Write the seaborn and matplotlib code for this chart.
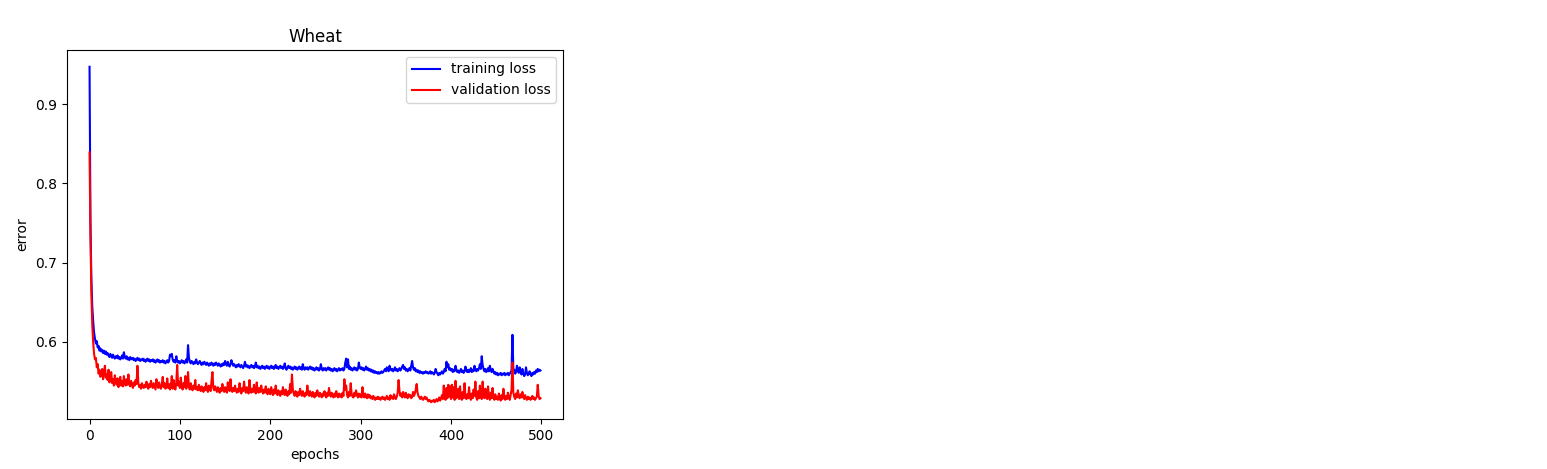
import numpy as np
import pandas as pd
import matplotlib
matplotlib.use("Agg")
import matplotlib.pyplot as plt
import seaborn as sns

title = "Wheat"
x_label = "epochs"
y_label = "error"
series_names = ["training loss", "validation loss"]

training_loss = [
    0.947, 0.752, 0.681, 0.645, 0.626, 0.612, 0.604, 0.598, 0.601, 0.593, 0.595, 0.589, 0.592, 0.588, 0.590, 0.586, 0.589, 0.585, 0.588, 0.584,
    0.586, 0.583, 0.581, 0.585, 0.582, 0.580, 0.584, 0.581, 0.579, 0.582, 0.580, 0.583, 0.579, 0.581, 0.578, 0.580, 0.583, 0.579, 0.587, 0.581,
    0.579, 0.582, 0.578, 0.580, 0.577, 0.581, 0.579, 0.578, 0.580, 0.577, 0.579, 0.576, 0.578, 0.580, 0.577, 0.579, 0.576, 0.578, 0.577, 0.579,
    0.576, 0.578, 0.575, 0.577, 0.579, 0.576, 0.578, 0.575, 0.577, 0.576, 0.578, 0.575, 0.577, 0.574, 0.576, 0.578, 0.575, 0.577, 0.574, 0.576,
    0.575, 0.577, 0.574, 0.576, 0.573, 0.575, 0.577, 0.574, 0.576, 0.584, 0.582, 0.585, 0.578, 0.575, 0.577, 0.574, 0.582, 0.576, 0.574, 0.576,
    0.573, 0.575, 0.577, 0.574, 0.576, 0.573, 0.575, 0.578, 0.574, 0.596, 0.580, 0.575, 0.573, 0.576, 0.574, 0.572, 0.575, 0.573, 0.578, 0.574,
    0.572, 0.574, 0.576, 0.573, 0.571, 0.574, 0.572, 0.575, 0.573, 0.571, 0.574, 0.572, 0.570, 0.573, 0.571, 0.574, 0.572, 0.570, 0.573, 0.571,
    0.574, 0.572, 0.570, 0.573, 0.571, 0.569, 0.572, 0.570, 0.573, 0.571, 0.576, 0.572, 0.570, 0.575, 0.571, 0.569, 0.572, 0.577, 0.573, 0.570,
    0.572, 0.570, 0.568, 0.571, 0.569, 0.572, 0.570, 0.568, 0.571, 0.569, 0.567, 0.570, 0.575, 0.569, 0.571, 0.568, 0.570, 0.567, 0.569, 0.571,
    0.568, 0.570, 0.567, 0.569, 0.574, 0.568, 0.570, 0.567, 0.569, 0.566, 0.568, 0.570, 0.567, 0.569, 0.566, 0.568, 0.570, 0.567, 0.569, 0.566,
    0.568, 0.570, 0.567, 0.569, 0.566, 0.568, 0.571, 0.567, 0.569, 0.566, 0.568, 0.570, 0.567, 0.569, 0.566, 0.568, 0.573, 0.567, 0.565, 0.568,
    0.570, 0.567, 0.569, 0.566, 0.568, 0.565, 0.567, 0.569, 0.566, 0.568, 0.565, 0.567, 0.569, 0.566, 0.568, 0.565, 0.572, 0.567, 0.565, 0.568,
    0.566, 0.568, 0.565, 0.567, 0.569, 0.566, 0.568, 0.565, 0.567, 0.564, 0.566, 0.568, 0.565, 0.567, 0.564, 0.566, 0.572, 0.566, 0.564, 0.567,
    0.565, 0.567, 0.564, 0.566, 0.568, 0.565, 0.567, 0.564, 0.566, 0.563, 0.565, 0.567, 0.564, 0.566, 0.563, 0.565, 0.567, 0.564, 0.566, 0.565,
    0.567, 0.564, 0.566, 0.574, 0.579, 0.568, 0.578, 0.566, 0.569, 0.565, 0.567, 0.564, 0.566, 0.568, 0.565, 0.567, 0.564, 0.566, 0.574, 0.568,
    0.566, 0.568, 0.565, 0.567, 0.564, 0.566, 0.569, 0.565, 0.567, 0.564, 0.566, 0.563, 0.565, 0.562, 0.564, 0.561, 0.563, 0.561, 0.562, 0.560,
    0.562, 0.560, 0.561, 0.563, 0.561, 0.562, 0.564, 0.566, 0.563, 0.568, 0.565, 0.563, 0.570, 0.566, 0.564, 0.566, 0.563, 0.565, 0.568, 0.564,
    0.566, 0.563, 0.565, 0.567, 0.564, 0.566, 0.569, 0.571, 0.566, 0.568, 0.564, 0.566, 0.563, 0.565, 0.567, 0.564, 0.570, 0.576, 0.568, 0.565,
    0.567, 0.563, 0.565, 0.562, 0.564, 0.561, 0.563, 0.561, 0.562, 0.560, 0.562, 0.561, 0.563, 0.561, 0.562, 0.560, 0.561, 0.563, 0.560, 0.562,
    0.561, 0.559, 0.561, 0.566, 0.562, 0.560, 0.558, 0.561, 0.559, 0.561, 0.563, 0.560, 0.562, 0.566, 0.563, 0.575, 0.568, 0.572, 0.565, 0.567,
    0.564, 0.566, 0.562, 0.565, 0.563, 0.570, 0.565, 0.562, 0.564, 0.561, 0.563, 0.566, 0.562, 0.564, 0.561, 0.563, 0.569, 0.564, 0.562, 0.565,
    0.562, 0.564, 0.567, 0.562, 0.565, 0.563, 0.570, 0.565, 0.563, 0.566, 0.564, 0.567, 0.572, 0.566, 0.582, 0.571, 0.566, 0.563, 0.566, 0.562,
    0.564, 0.567, 0.563, 0.570, 0.565, 0.562, 0.566, 0.563, 0.560, 0.562, 0.559, 0.561, 0.558, 0.560, 0.559, 0.561, 0.558, 0.560, 0.559, 0.561,
    0.558, 0.560, 0.559, 0.561, 0.558, 0.560, 0.562, 0.564, 0.609, 0.566, 0.565, 0.560, 0.562, 0.570, 0.564, 0.561, 0.568, 0.562, 0.559, 0.566,
    0.560, 0.557, 0.559, 0.568, 0.561, 0.558, 0.560, 0.563, 0.559, 0.557, 0.561, 0.559, 0.562, 0.560, 0.564, 0.562, 0.566, 0.563, 0.565, 0.564,
]

validation_loss = [
    0.839, 0.735, 0.662, 0.622, 0.600, 0.585, 0.578, 0.580, 0.568, 0.572, 0.560, 0.565, 0.556, 0.558, 0.566, 0.553, 0.561, 0.570, 0.555, 0.559,
    0.552, 0.565, 0.549, 0.556, 0.562, 0.548, 0.553, 0.545, 0.558, 0.550, 0.546, 0.554, 0.543, 0.550, 0.556, 0.545, 0.551, 0.544, 0.557, 0.548,
    0.545, 0.553, 0.546, 0.559, 0.547, 0.544, 0.551, 0.546, 0.542, 0.549, 0.545, 0.552, 0.547, 0.570, 0.548, 0.543, 0.546, 0.541, 0.548, 0.544,
    0.542, 0.546, 0.543, 0.550, 0.544, 0.541, 0.547, 0.543, 0.551, 0.545, 0.542, 0.548, 0.544, 0.540, 0.553, 0.545, 0.542, 0.549, 0.543, 0.541,
    0.547, 0.556, 0.543, 0.548, 0.541, 0.544, 0.554, 0.542, 0.547, 0.540, 0.545, 0.557, 0.541, 0.552, 0.543, 0.540, 0.549, 0.571, 0.545, 0.550,
    0.542, 0.555, 0.544, 0.540, 0.548, 0.543, 0.557, 0.541, 0.546, 0.562, 0.543, 0.540, 0.548, 0.542, 0.539, 0.545, 0.541, 0.552, 0.540, 0.543,
    0.539, 0.546, 0.541, 0.538, 0.544, 0.540, 0.537, 0.543, 0.539, 0.548, 0.540, 0.537, 0.545, 0.541, 0.538, 0.551, 0.562, 0.542, 0.539, 0.544,
    0.540, 0.537, 0.543, 0.539, 0.536, 0.542, 0.538, 0.547, 0.540, 0.537, 0.543, 0.539, 0.536, 0.549, 0.541, 0.538, 0.553, 0.540, 0.537, 0.542,
    0.538, 0.545, 0.539, 0.536, 0.541, 0.537, 0.548, 0.539, 0.535, 0.542, 0.538, 0.550, 0.540, 0.536, 0.543, 0.538, 0.535, 0.552, 0.539, 0.536,
    0.541, 0.537, 0.546, 0.538, 0.535, 0.549, 0.539, 0.536, 0.542, 0.537, 0.545, 0.538, 0.535, 0.540, 0.536, 0.544, 0.537, 0.534, 0.541, 0.536,
    0.534, 0.543, 0.537, 0.533, 0.540, 0.535, 0.545, 0.537, 0.533, 0.539, 0.535, 0.532, 0.538, 0.534, 0.543, 0.536, 0.533, 0.540, 0.535, 0.532,
    0.538, 0.534, 0.547, 0.536, 0.559, 0.540, 0.535, 0.532, 0.538, 0.534, 0.531, 0.537, 0.533, 0.541, 0.535, 0.532, 0.538, 0.534, 0.531, 0.536,
    0.533, 0.545, 0.536, 0.532, 0.538, 0.534, 0.531, 0.537, 0.533, 0.530, 0.536, 0.532, 0.539, 0.534, 0.531, 0.536, 0.533, 0.530, 0.535, 0.532,
    0.538, 0.533, 0.530, 0.536, 0.532, 0.542, 0.534, 0.531, 0.536, 0.532, 0.530, 0.535, 0.531, 0.538, 0.533, 0.530, 0.535, 0.531, 0.534, 0.530,
    0.536, 0.532, 0.553, 0.540, 0.545, 0.533, 0.530, 0.537, 0.532, 0.548, 0.535, 0.531, 0.530, 0.536, 0.532, 0.539, 0.533, 0.530, 0.535, 0.531,
    0.534, 0.530, 0.543, 0.533, 0.530, 0.535, 0.531, 0.529, 0.534, 0.530, 0.533, 0.529, 0.531, 0.528, 0.532, 0.529, 0.527, 0.530, 0.528, 0.531,
    0.528, 0.530, 0.527, 0.529, 0.531, 0.528, 0.530, 0.527, 0.529, 0.532, 0.528, 0.530, 0.527, 0.533, 0.529, 0.531, 0.528, 0.534, 0.530, 0.528,
    0.531, 0.536, 0.552, 0.538, 0.532, 0.535, 0.530, 0.537, 0.533, 0.530, 0.536, 0.532, 0.529, 0.534, 0.531, 0.533, 0.529, 0.531, 0.537, 0.532,
    0.535, 0.540, 0.547, 0.536, 0.532, 0.530, 0.528, 0.531, 0.529, 0.527, 0.529, 0.531, 0.528, 0.530, 0.527, 0.525, 0.527, 0.526, 0.524, 0.526,
    0.525, 0.527, 0.524, 0.526, 0.528, 0.525, 0.527, 0.530, 0.526, 0.529, 0.533, 0.528, 0.545, 0.530, 0.527, 0.542, 0.529, 0.546, 0.531, 0.544,
    0.528, 0.546, 0.530, 0.543, 0.527, 0.551, 0.529, 0.534, 0.541, 0.528, 0.544, 0.530, 0.527, 0.537, 0.529, 0.548, 0.531, 0.528, 0.534, 0.529,
    0.543, 0.530, 0.527, 0.535, 0.529, 0.540, 0.532, 0.550, 0.530, 0.527, 0.538, 0.529, 0.545, 0.531, 0.528, 0.550, 0.533, 0.529, 0.541, 0.530,
    0.528, 0.544, 0.531, 0.527, 0.536, 0.529, 0.542, 0.530, 0.527, 0.534, 0.528, 0.531, 0.527, 0.535, 0.529, 0.526, 0.533, 0.528, 0.541, 0.530,
    0.527, 0.532, 0.528, 0.536, 0.530, 0.527, 0.533, 0.540, 0.574, 0.536, 0.531, 0.528, 0.535, 0.530, 0.539, 0.532, 0.529, 0.534, 0.530, 0.537,
    0.531, 0.528, 0.533, 0.529, 0.527, 0.531, 0.528, 0.530, 0.527, 0.529, 0.532, 0.528, 0.530, 0.527, 0.529, 0.531, 0.546, 0.532, 0.528, 0.529,
]

epochs = list(range(len(training_loss)))

df = pd.DataFrame({
    "epoch": epochs + epochs,
    "loss": training_loss + validation_loss,
    "series": [series_names[0]] * len(epochs) + [series_names[1]] * len(epochs),
})

fig = plt.figure(figsize=(15.47, 4.69), dpi=100)
ax = fig.add_axes([67 / 1547, 1 - 419 / 469, 496 / 1547, 369 / 469])

sns.lineplot(data=df, x="epoch", y="loss", hue="series",
             palette={series_names[0]: "blue", series_names[1]: "red"},
             linewidth=1.5, ax=ax)

ax.set_title(title, fontsize=12)
ax.set_xlabel(x_label)
ax.set_ylabel(y_label)
ax.legend(loc="upper right")
ax.set_xticks([0, 100, 200, 300, 400, 500])

fig.savefig("out.png", dpi=100)
